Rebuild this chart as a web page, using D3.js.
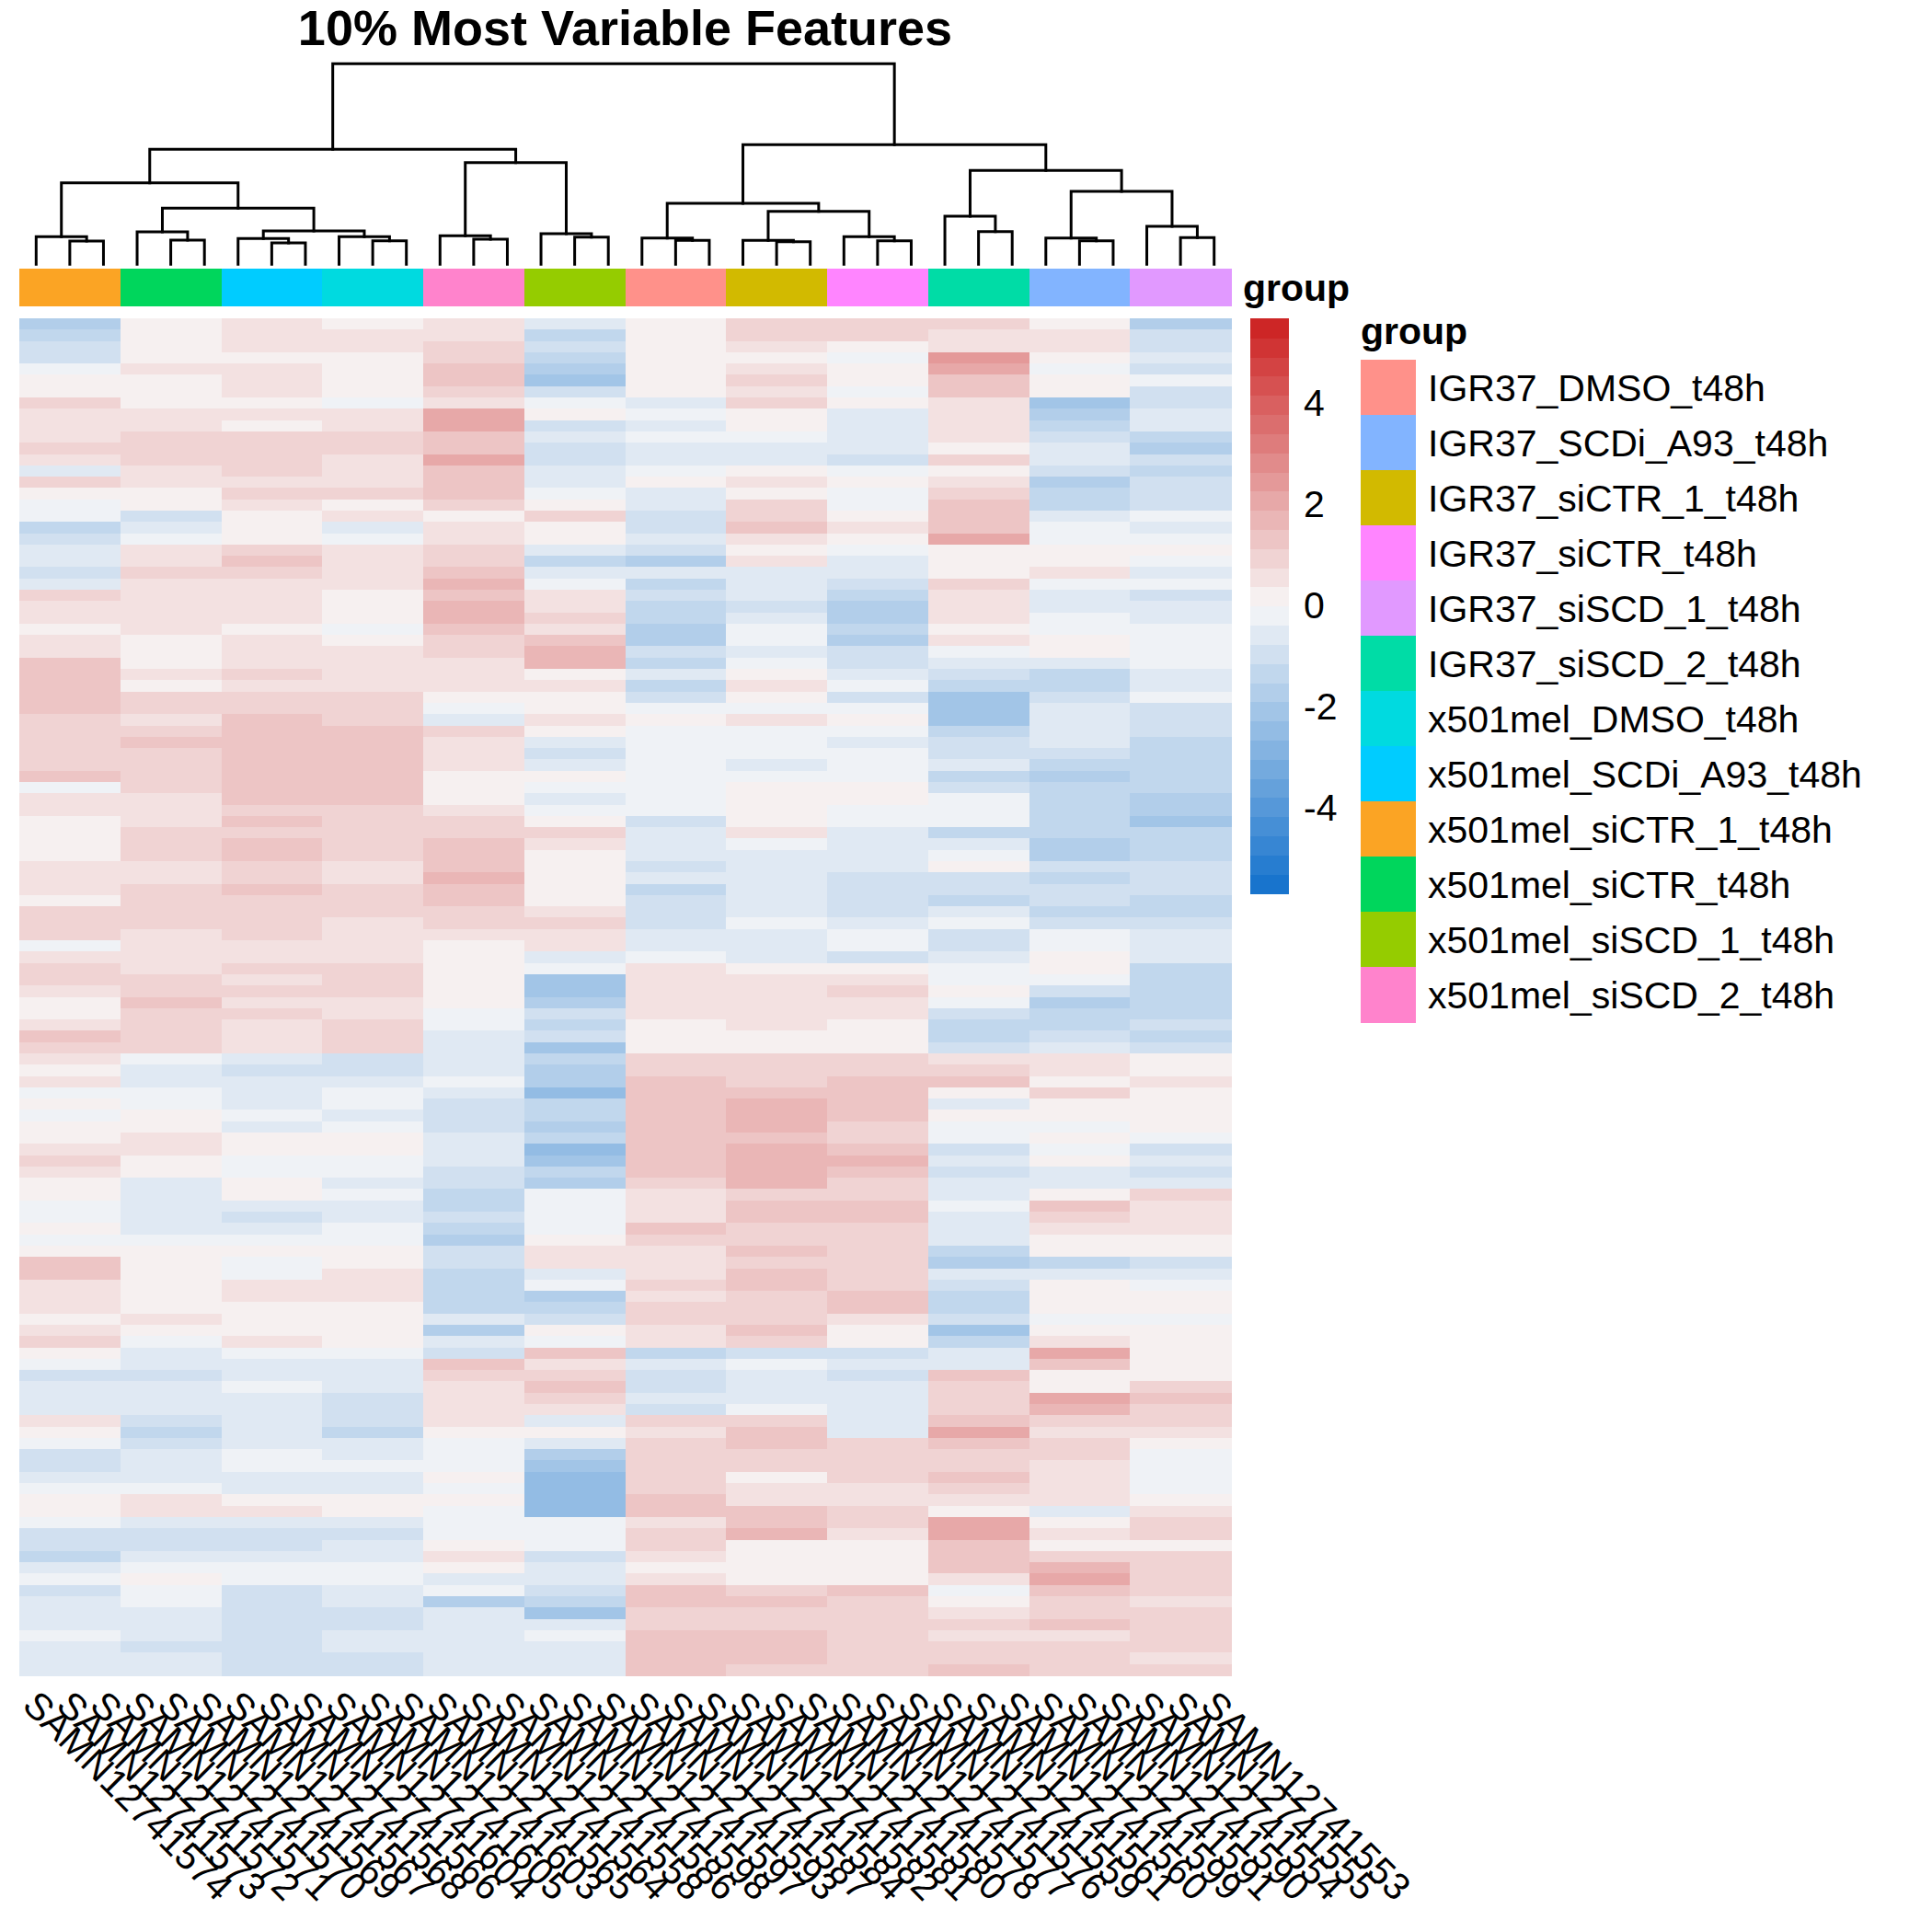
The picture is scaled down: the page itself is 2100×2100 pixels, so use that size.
<!DOCTYPE html>
<html>
<head>
<meta charset="utf-8">
<script src="https://cdn.jsdelivr.net/npm/d3@7"></script>
<style>
  body { margin: 0; background: #fff; }
  text { font-family: "Liberation Sans", Arial, sans-serif; fill: #000; }
</style>
</head>
<body>
<div id="chart"></div>
<script>
// sample ids, left to right. The rotated labels overlap, so some digits are a best guess
const samples = ["SAMN12741574", "SAMN12741573", "SAMN12741572", "SAMN12741571", "SAMN12741570", "SAMN12741569",
    "SAMN12741567", "SAMN12741568", "SAMN12741566", "SAMN12741604", "SAMN12741605", "SAMN12741603",
    "SAMN12741565", "SAMN12741564", "SAMN12741558", "SAMN12741586", "SAMN12741598", "SAMN12741597",
    "SAMN12741593", "SAMN12741587", "SAMN12741584", "SAMN12741582", "SAMN12741581", "SAMN12741580",
    "SAMN12741578", "SAMN12741577", "SAMN12741576", "SAMN12741559", "SAMN12741561", "SAMN12741560",
    "SAMN12741599", "SAMN12741591", "SAMN12741590", "SAMN12741554", "SAMN12741555", "SAMN12741553"];

// groups in legend order
const legendGroups = ["IGR37_DMSO_t48h", "IGR37_SCDi_A93_t48h", "IGR37_siCTR_1_t48h", "IGR37_siCTR_t48h",
    "IGR37_siSCD_1_t48h", "IGR37_siSCD_2_t48h", "x501mel_DMSO_t48h", "x501mel_SCDi_A93_t48h",
    "x501mel_siCTR_1_t48h", "x501mel_siCTR_t48h", "x501mel_siSCD_1_t48h", "x501mel_siSCD_2_t48h"];
const legendColors = ["#FF918A", "#82B4FF", "#D2BA00", "#FF85FF", "#E199FF", "#00DCA6",
    "#00DAE0", "#00CCFF", "#FBA424", "#00D65C", "#95CC00", "#FF83CC"];

// groups left to right across the heatmap, three samples each
const plotGroups = ["x501mel_siCTR_1_t48h", "x501mel_siCTR_t48h", "x501mel_SCDi_A93_t48h", "x501mel_DMSO_t48h",
    "x501mel_siSCD_2_t48h", "x501mel_siSCD_1_t48h", "IGR37_DMSO_t48h", "IGR37_siCTR_1_t48h", "IGR37_siCTR_t48h",
    "IGR37_siSCD_2_t48h", "IGR37_SCDi_A93_t48h", "IGR37_siSCD_1_t48h"];

// z-scores per group, top to bottom, in 120 bands. Estimates of the band colour: the
// single-feature stripes and the small differences between samples of a group are too fine to read
const x501siCTR1 = [-1.6,-1.5,-1.1,-1.1,-0.3,0.1,0.3,0.8,0.4,0.5,0.6,0.9,0.6,-0.6,0.8,0.3,-0.3,-0.2,-1.3,-1.0,-0.4,-0.5,-0.9,-0.7,
    0.8,0.6,0.6,0.3,0.4,0.5,1.4,1.4,1.5,1.3,1.5,1.0,0.8,1.0,0.9,1.0,1.4,-0.3,0.5,0.7,0.0,0.2,0.3,0.2,0.4,
    0.5,0.4,0.2,0.9,1.1,0.9,-0.3,0.4,1.0,0.8,0.6,0.2,0.0,0.6,1.2,0.9,0.7,0.3,0.4,-0.1,0.2,-0.1,0.3,0.3,
    0.6,0.8,0.4,0.0,0.3,-0.2,-0.1,0.2,-0.1,0.1,1.3,1.3,0.6,0.7,0.4,0.3,0.7,0.8,0.1,-0.2,-1.0,-0.5,-0.7,-0.4,
    0.5,0.2,-0.3,-1.0,-0.9,-0.6,-0.3,0.1,0.2,-0.2,-1.0,-0.8,-1.2,-0.6,-0.2,-0.8,-0.5,-0.4,-0.5,-0.3,-0.4,-0.5,-0.6];
const x501siCTR = [0.3,0.1,0.2,0.1,0.4,0.3,0.0,0.2,0.7,0.4,1.0,0.9,1.0,0.6,0.5,0.2,0.0,-0.9,-0.5,-0.2,0.5,0.5,0.9,0.4,
    0.7,0.4,0.6,0.5,0.1,0.2,0.0,0.5,0.0,0.9,1.0,0.7,1.0,1.2,1.1,1.0,1.1,0.8,0.7,0.6,0.7,1.0,0.9,0.8,0.7,
    0.5,0.8,0.8,0.9,0.8,0.5,0.5,0.6,0.7,0.9,1.1,1.2,1.0,1.0,1.0,1.0,-0.3,-0.6,-0.5,-0.1,-0.1,0.1,0.2,0.4,
    0.4,0.1,0.0,-0.5,-0.6,-0.7,-0.6,-0.7,-0.3,0.0,0.2,0.3,0.2,0.1,0.1,0.5,0.3,-0.3,-0.5,-0.7,-0.8,-0.5,-0.6,-0.6,
    -0.8,-1.3,-1.1,-0.5,-0.4,-0.4,-0.2,0.6,0.7,-0.6,-1.0,-0.8,-0.4,-0.1,0.3,-0.1,-0.3,-0.7,-0.7,-0.7,-0.8,-0.6,-0.6];
const x501SCDi = [0.4,0.6,0.5,0.2,0.6,0.5,0.4,0.1,0.4,0.3,1.0,1.0,1.0,0.8,0.5,1.0,0.4,0.3,0.0,0.2,1.1,1.2,1.1,0.7,
    0.6,0.4,0.6,0.2,0.7,0.5,0.6,0.8,0.6,0.8,1.1,1.2,1.2,1.2,1.3,1.2,1.3,1.2,1.2,1.1,1.2,1.1,1.4,1.3,1.0,
    1.1,1.2,0.9,0.9,1.0,0.8,0.7,0.6,1.1,0.7,0.8,0.6,0.8,0.7,0.6,0.7,-0.7,-0.9,-0.5,-0.4,-0.5,-0.2,-0.5,0.2,
    0.2,-0.1,-0.2,0.0,0.2,-0.7,-0.8,-0.4,-0.1,0.3,-0.2,-0.2,0.5,0.5,0.1,0.1,0.3,0.4,-0.1,-0.5,-0.6,-0.3,-0.6,-0.6,
    -0.6,-0.7,-0.5,-0.3,-0.3,-0.5,-0.5,0.2,0.4,-0.7,-1.0,-0.8,-0.5,-0.3,-0.2,-0.8,-0.8,-0.8,-1.0,-0.9,-0.8,-0.9,-0.8];
const x501DMSO = [0.3,0.4,0.6,0.1,0.1,0.1,0.1,-0.3,0.4,0.4,0.9,0.9,0.7,0.4,0.5,0.8,0.2,0.4,-0.6,-0.2,0.5,0.7,0.6,0.7,
    0.1,0.3,0.1,-0.1,0.0,0.4,0.4,0.6,0.6,0.8,0.9,1.1,1.2,1.3,1.3,1.3,1.4,1.3,1.3,1.1,1.0,1.0,1.0,1.0,0.7,
    0.6,0.9,0.9,0.9,0.5,0.5,0.7,0.5,1.1,1.0,0.9,0.7,0.6,0.8,0.9,0.9,-0.8,-0.8,-0.7,-0.3,-0.2,-0.5,-0.3,0.0,
    0.1,-0.2,-0.3,-0.5,-0.1,-0.7,-0.6,-0.1,-0.1,0.0,0.1,0.5,0.4,0.4,0.1,0.2,0.3,0.3,-0.3,-0.6,-0.7,-0.5,-0.8,-1.0,
    -1.0,-1.2,-0.6,-0.4,-0.2,-0.6,-0.5,0.2,0.1,-0.7,-1.0,-0.7,-0.5,-0.3,-0.3,-0.5,-0.6,-0.8,-0.9,-0.7,-0.7,-0.8,-0.8];
const x501siSCD2 = [0.5,0.7,0.8,0.8,1.2,1.3,0.9,0.6,1.9,2.0,1.2,1.3,2.0,1.4,1.2,1.2,1.0,0.3,0.7,0.7,1.0,1.1,1.2,1.7,
    1.5,1.6,1.6,1.5,1.0,0.9,0.6,0.4,0.6,0.0,-0.1,-0.7,0.9,0.7,0.5,0.5,0.2,0.0,0.2,0.4,0.8,1.0,1.2,1.4,1.5,
    1.6,1.3,1.3,1.0,0.8,0.4,0.3,0.2,0.0,0.0,0.1,0.0,-0.3,-0.1,-0.4,-0.5,-0.7,-0.7,-0.3,-0.7,-1.0,-1.1,-0.8,-0.7,
    -0.4,-0.7,-0.9,-1.0,-1.2,-1.4,-1.1,-1.2,-1.8,-1.0,-1.0,-1.3,-1.4,-1.5,-1.2,-0.6,-1.7,-0.4,-0.8,1.3,1.0,0.7,0.6,0.6,
    0.4,0.2,-0.1,-0.2,-0.2,0.0,-0.3,0.0,-0.1,-0.2,-0.3,0.1,0.4,0.1,-0.6,-0.3,-1.6,-0.6,-0.6,-0.7,-0.7,-0.6,-0.6];
const x501siSCD1 = [-0.6,-1.2,-1.0,-1.2,-1.7,-2.1,-1.0,-0.3,0.2,-0.9,-0.4,-1.0,-0.8,-0.6,-0.5,-0.1,0.0,1.0,0.2,0.3,-0.6,-1.3,-0.4,-0.2,
    0.6,0.5,1.0,0.6,1.4,1.7,1.6,0.3,0.5,0.3,0.3,0.4,0.0,-0.4,-1.0,-0.5,0.0,-0.3,-0.7,-0.3,0.3,1.0,0.4,0.3,0.2,
    0.2,0.2,0.3,0.6,0.9,0.5,0.7,-0.5,-0.3,-2.0,-2.0,-1.6,-1.0,-1.4,-1.0,-2.2,-1.3,-1.8,-1.8,-2.3,-1.5,-1.4,-1.8,-1.2,
    -2.3,-2.2,-1.2,-1.6,-0.2,-0.2,-0.3,-0.1,0.1,0.5,0.7,-0.4,-0.1,-1.6,-1.3,-0.8,0.0,-0.1,1.2,0.7,1.0,1.2,0.8,0.5,
    -0.5,0.3,-0.6,-1.8,-2.0,-2.3,-2.5,-2.6,-2.5,-0.3,-0.1,-0.3,-0.9,-0.5,-0.4,-1.1,-1.4,-1.9,-0.7,-0.3,-0.5,-0.5,-0.6];
const igrDMSO = [0.1,0.3,0.1,0.0,0.0,0.1,0.2,-0.4,-0.3,-0.6,-0.1,-0.4,-0.6,-0.1,0.2,-0.4,-0.6,-1.1,-0.8,-0.6,-0.9,-1.6,-0.5,-1.3,
    -1.0,-1.2,-1.5,-1.7,-1.6,-1.0,-1.2,-0.5,-1.2,-1.1,-0.3,0.0,-0.3,-0.1,-0.2,-0.1,-0.2,-0.1,-0.2,-0.3,-1.0,-0.4,-0.6,-0.5,-1.0,
    -0.5,-1.2,-1.1,-0.8,-0.8,-0.5,-0.6,-0.2,0.5,0.4,0.5,0.5,0.4,0.3,0.3,0.3,1.0,1.0,1.2,1.4,1.3,1.4,1.3,1.3,
    1.2,1.4,1.5,1.1,0.6,0.7,0.6,1.4,1.1,0.6,0.7,0.7,0.9,0.5,0.9,1.0,0.6,0.6,-1.2,-0.5,-0.9,-1.1,-0.7,-0.9,
    0.8,0.6,1.1,1.1,1.0,0.9,0.9,1.2,1.5,0.5,0.8,1.0,0.4,0.2,0.7,1.3,1.5,1.0,1.1,1.3,1.2,1.3,1.3];
const igrSiCTR1 = [0.9,0.8,0.4,0.2,0.5,0.9,0.6,0.9,0.1,0.0,-0.2,-0.5,-0.6,0.2,0.6,0.2,1.1,1.0,1.2,0.4,0.1,0.6,-0.4,-0.4,
    -0.6,-0.8,-0.7,-0.3,-0.3,-0.5,-0.1,0.1,0.4,0.3,-0.1,0.4,-0.2,-0.3,-0.2,-0.4,-0.3,0.3,0.0,0.2,0.1,0.5,-0.1,-0.4,-0.6,
    -0.4,-0.4,-0.4,-0.5,-0.2,-0.5,-0.6,-0.6,0.3,0.5,0.5,0.4,0.6,0.5,0.1,0.2,1.0,1.1,0.9,1.4,1.7,1.7,1.7,1.2,
    1.7,1.7,1.7,1.6,1.0,1.2,1.5,1.1,0.8,1.4,1.1,1.2,1.2,1.0,1.1,0.9,1.2,0.9,-0.8,-0.1,-0.4,-0.4,-0.5,-0.3,
    1.0,1.3,1.2,1.0,0.9,0.3,0.7,0.5,1.5,1.4,1.6,0.1,0.2,0.1,0.2,1.1,1.2,1.0,1.0,1.3,1.3,1.3,1.1];
const igrSiCTR = [0.8,0.8,0.3,-0.1,0.1,0.1,-0.1,0.2,-0.7,-0.7,-0.7,-0.7,-0.8,-0.1,0.1,-0.3,-0.1,0.2,0.5,0.3,-0.1,-0.5,-0.5,-0.9,
    -1.2,-1.6,-1.6,-1.5,-1.6,-1.0,-1.0,-0.7,-0.3,-1.0,-0.3,0.0,-0.2,-0.6,-0.3,-0.1,-0.1,0.1,0.0,-0.1,-0.1,-0.7,-0.5,-0.7,-0.7,
    -0.8,-1.0,-1.1,-0.9,-0.6,-0.1,-0.3,-1.0,0.2,0.4,0.8,0.6,0.6,0.3,0.2,0.3,1.0,1.1,1.4,1.2,1.3,1.3,1.1,0.9,
    1.3,1.8,1.4,0.9,1.0,1.3,1.4,1.0,0.9,1.0,1.0,0.9,1.1,1.2,1.4,0.7,0.3,0.3,-0.8,-0.7,-1.0,-0.5,-0.6,-0.7,
    -0.5,-0.4,1.0,0.9,0.8,1.0,0.5,0.4,1.1,1.1,0.7,0.3,0.1,0.2,0.3,1.2,0.9,0.9,1.0,1.1,1.1,1.0,0.9];
const igrSiSCD2 = [0.9,0.7,0.6,2.3,1.9,1.5,1.5,0.6,0.7,0.5,0.5,0.2,0.8,0.3,0.7,0.8,1.3,1.3,1.5,2.2,0.2,0.2,0.0,0.9,
    0.5,0.5,0.7,0.2,0.4,-0.2,-0.7,-1.0,-1.4,-2.0,-2.0,-1.9,-1.2,-1.0,-0.9,-0.5,-1.2,-0.9,-0.1,-0.1,-0.1,-1.3,-0.6,-0.2,0.0,
    -1.0,-0.9,-1.3,-0.5,-0.2,-0.8,-0.9,-0.5,-0.1,-0.3,0.1,-0.2,-0.8,-1.2,-1.3,-0.8,0.5,1.1,1.2,0.2,-0.6,0.1,-0.2,-0.2,
    -0.9,-0.7,-0.8,-0.5,-0.7,-0.3,-0.7,-0.7,-0.4,-1.4,-1.6,-0.6,-0.8,-1.5,-1.2,-0.9,-2.0,-1.3,-0.4,-0.5,1.4,0.9,1.0,0.9,
    1.2,1.9,1.3,0.9,1.0,1.2,0.9,0.7,0.0,2.1,2.0,1.5,1.4,1.4,0.6,-0.1,0.2,0.6,1.1,0.7,1.0,1.0,1.2];
const igrSCDi = [0.1,0.4,0.6,0.2,-0.1,0.0,0.1,-2.0,-1.7,-1.3,-1.1,-0.7,-0.5,-1.0,-1.7,-1.4,-1.2,-0.6,-0.3,-0.3,0.0,0.0,0.4,-0.2,
    -0.5,-0.4,-0.2,-0.1,0.1,0.0,-0.6,-1.5,-1.2,-0.8,-0.5,-0.5,-0.7,-0.7,-0.9,-1.5,-1.6,-1.4,-1.5,-1.4,-1.2,-1.5,-1.8,-1.6,-0.8,
    -1.2,-0.9,-0.8,-1.5,-1.0,-0.2,-0.2,0.2,0.0,-0.3,-1.0,-1.8,-1.5,-1.2,-0.8,-0.5,0.7,0.4,0.3,0.8,0.2,0.0,-0.1,0.1,
    -0.2,0.0,-0.4,-0.4,0.1,1.3,1.0,0.5,0.3,0.2,-1.3,-0.7,0.2,0.1,0.2,-0.2,0.0,0.7,2.0,1.2,0.2,0.3,2.1,1.6,
    0.8,0.5,0.8,1.0,0.7,0.5,0.7,0.5,-0.4,0.3,0.6,0.2,0.9,1.8,2.1,1.2,1.0,1.0,1.3,0.7,1.0,1.0,0.9];
const igrSiSCD1 = [-1.6,-1.0,-1.0,-0.4,-0.8,-0.2,-0.9,-0.9,-0.5,-0.6,-1.2,-1.6,-0.9,-1.2,-0.9,-0.9,-1.0,-0.3,-0.4,-0.2,0.0,-0.3,-0.5,-0.3,
    -0.8,-0.7,-0.7,-0.3,-0.2,-0.2,-0.2,-0.7,-0.5,-0.3,-1.0,-1.0,-1.0,-1.2,-1.3,-1.4,-1.3,-1.2,-1.6,-1.8,-1.9,-1.4,-1.5,-1.3,-1.0,
    -1.1,-1.0,-1.3,-1.2,-1.1,-0.6,-0.6,-0.7,-1.5,-1.4,-1.2,-1.5,-1.2,-0.9,-1.3,-1.0,0.2,0.3,0.5,0.1,0.2,0.2,0.3,-0.2,
    -0.8,-0.5,-1.0,-0.4,0.8,0.6,0.4,0.4,0.3,0.3,-0.8,-0.4,-0.2,0.0,0.3,-0.1,0.0,0.2,0.3,0.2,0.3,0.9,1.3,1.0,
    1.1,0.5,0.0,-0.2,-0.2,-0.3,-0.3,0.1,0.6,0.9,0.9,0.3,1.0,1.0,0.9,1.0,0.4,1.0,0.8,0.9,1.1,0.7,0.8];

const groupValues = [x501siCTR1, x501siCTR, x501SCDi, x501DMSO, x501siSCD2, x501siSCD1,
    igrDMSO, igrSiCTR1, igrSiCTR, igrSiSCD2, igrSCDi, igrSiSCD1];

// hclust style merges: [left, right, height]. Negative = sample number, positive = earlier merge
const merges = [[-2,-3,25.3],[-1,1,30],[-5,-6,26.3],[-4,3,35.3],[-8,-9,23.3],[-7,5,28],[-11,-12,25.6],[-10,7,30],
    [6,8,36.3],[4,9,61],[2,10,88.6],[-14,-15,27.3],[-13,12,31],[-17,-18,29.6],[-16,14,33.3],[13,15,110.6],[11,16,125],
    [-20,-21,26],[-19,18,28.6],[-23,-24,24.6],[-22,20,26],[-26,-27,25.6],[-25,22,30],[21,23,57.6],[19,24,66.3],
    [-29,-30,35.6],[-28,26,52.3],[-32,-33,25.6],[-31,28,28.6],[-35,-36,29],[-34,30,41.3],[29,31,79.3],[27,32,102],
    [25,33,130],[17,34,218]];

const legendTicks = [4, 2, 0, -2, -4];
const zMax = 5.67;

const width = 2100;
const height = 2100;
const left = 21, right = 1338;
const heatTop = 346, heatBottom = 1821;

const svg = d3.select("#chart").append("svg")
    .attr("width", width)
    .attr("height", height)
    .style("display", "block");

const xScale = d3.scaleBand().domain(samples).range([left, right]);
const rowIds = d3.range(groupValues[0].length);
const yScale = d3.scaleBand().domain(rowIds).range([heatTop, heatBottom]);

// 30 step palette, same ramp as the colorbar
const ramp = d3.piecewise(d3.interpolateRgb, ["#1874CD", "#F7F7F7", "#CD2626"]);
const palette = d3.quantize(ramp, 30);
const colorScale = d3.scaleQuantize().domain([-zMax, zMax]).range(palette);

svg.append("text")
    .attr("x", (left + right) / 2)
    .attr("y", 49)
    .attr("text-anchor", "middle")
    .style("font-size", "54px")
    .style("font-weight", "bold")
    .text("10% Most Variable Features");

// dendrogram
const treeY = d3.scaleLinear().domain([0, 218]).range([287.3, 69.3]);
const nodes = [];
const treePos = (id) => id < 0
    ? { x: xScale(samples[-id - 1]) + xScale.bandwidth() / 2, h: 0 }
    : nodes[id - 1];
merges.forEach((m) => {
    const a = treePos(m[0]);
    const b = treePos(m[1]);
    nodes.push({ x: (a.x + b.x) / 2, h: m[2], a: a, b: b });
});
svg.append("g").selectAll("path")
    .data(nodes)
    .enter().append("path")
    .attr("fill", "none")
    .attr("stroke", "#000")
    .attr("stroke-width", 3)
    .attr("stroke-linecap", "square")
    .attr("d", (d) => d3.line()([[d.a.x, treeY(d.a.h)], [d.a.x, treeY(d.h)], [d.b.x, treeY(d.h)], [d.b.x, treeY(d.b.h)]]));

// annotation bar
const groupColor = d3.scaleOrdinal().domain(legendGroups).range(legendColors);
const sampleGroup = (i) => Math.floor(i / 3);
svg.append("g").attr("shape-rendering", "crispEdges").selectAll("rect")
    .data(samples)
    .enter().append("rect")
    .attr("x", (d) => xScale(d))
    .attr("y", 292)
    .attr("width", xScale.bandwidth() + 1)
    .attr("height", 41)
    .attr("fill", (d, i) => groupColor(plotGroups[sampleGroup(i)]));

svg.append("text")
    .attr("x", 1351)
    .attr("y", 327)
    .style("font-size", "41px")
    .style("font-weight", "bold")
    .text("group");

// heatmap cells
const cellData = [];
samples.forEach((s, i) => {
    rowIds.forEach((r) => {
        cellData.push({ sample: s, row: r, value: groupValues[sampleGroup(i)][r] });
    });
});
svg.append("g").attr("shape-rendering", "crispEdges").selectAll("rect")
    .data(cellData)
    .enter().append("rect")
    .attr("x", (d) => xScale(d.sample))
    .attr("y", (d) => yScale(d.row))
    .attr("width", xScale.bandwidth() + 1)
    .attr("height", yScale.bandwidth() + 1)
    .attr("fill", (d) => colorScale(d.value));

// sample labels
svg.append("g").selectAll("text")
    .data(samples)
    .enter().append("text")
    .attr("transform", (d) => `translate(${xScale(d) + xScale.bandwidth() / 2 - 6},1845) rotate(45)`)
    .attr("dy", "0.36em")
    .style("font-size", "41px")
    .text((d) => d);

// colorbar
const barY = d3.scaleBand().domain(d3.range(30)).range([970.5, 346]);
svg.append("g").attr("shape-rendering", "crispEdges").selectAll("rect")
    .data(palette)
    .enter().append("rect")
    .attr("x", 1359)
    .attr("y", (d, i) => barY(i))
    .attr("width", 42)
    .attr("height", barY.bandwidth() + 1)
    .attr("fill", (d) => d);

const barScale = d3.scaleLinear().domain([-zMax, zMax]).range([970.5, 346]);
const barAxis = svg.append("g")
    .attr("transform", "translate(1417,0)")
    .call(d3.axisRight(barScale).tickValues(legendTicks).tickSize(0).tickPadding(0).tickFormat((d) => String(d)));
barAxis.select(".domain").remove();
barAxis.selectAll("text")
    .style("font-size", "41px")
    .style("font-family", "'Liberation Sans'");

// group legend
const legendY = d3.scaleBand().domain(legendGroups).range([391, 1111]);
svg.append("text")
    .attr("x", 1479)
    .attr("y", 374)
    .style("font-size", "41px")
    .style("font-weight", "bold")
    .text("group");
svg.append("g").attr("shape-rendering", "crispEdges").selectAll("rect")
    .data(legendGroups)
    .enter().append("rect")
    .attr("x", 1479)
    .attr("y", (d) => legendY(d))
    .attr("width", 60)
    .attr("height", legendY.bandwidth() + 1)
    .attr("fill", (d) => groupColor(d));
svg.append("g").selectAll("text")
    .data(legendGroups)
    .enter().append("text")
    .attr("x", 1552)
    .attr("y", (d) => legendY(d) + legendY.bandwidth() / 2)
    .attr("dy", "0.36em")
    .style("font-size", "41px")
    .text((d) => d);
</script>
</body>
</html>
